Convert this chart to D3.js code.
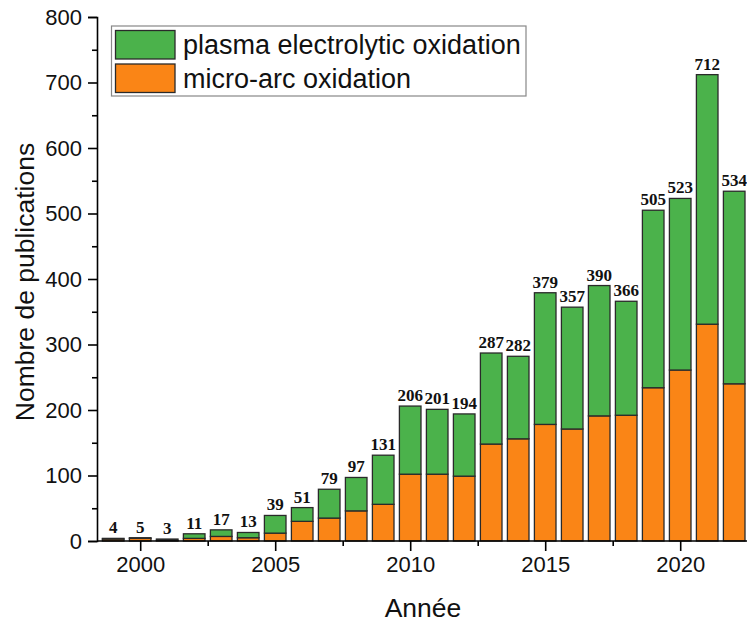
<!DOCTYPE html>
<html>
<head>
<meta charset="utf-8">
<script src="https://cdn.jsdelivr.net/npm/d3@7"></script>
<style>
  html, body { margin: 0; padding: 0; background: #fff; }
  svg { display: block; }
</style>
</head>
<body>
<svg id="chart" width="747" height="623"></svg>
<script>
const years = [1999,2000,2001,2002,2003,2004,2005,2006,2007,2008,2009,2010,2011,2012,2013,2014,2015,2016,2017,2018,2019,2020,2021,2022];
const microArc = [3,4,1,4,7,5,12,30,35,46,56,102,102,99,148,156,178,171,191,192,234,261,331,240];
const plasma   = [1,1,2,7,10,8,27,21,44,51,75,104,99,95,139,126,201,186,199,174,271,262,381,294];
const totals   = [4,5,3,11,17,13,39,51,79,97,131,206,201,194,287,282,379,357,390,366,505,523,712,534];
const seriesNames = ["plasma electrolytic oxidation", "micro-arc oxidation"];
const seriesColors = ["#4bb24b", "#fa8516"];
const yTicks = [0,100,200,300,400,500,600,700,800];
const xTicks = [2000,2005,2010,2015,2020];

(function () {
const svg = d3.select("#chart");
const mLeft = 97, mRight = 747, mTop = 17, mBottom = 541;

const x = d3.scaleLinear().domain([1998.4, 2022.474]).range([mLeft, mRight]);
const y = d3.scaleLinear().domain([0, 800]).range([mBottom, mTop]);
const barW = x(2000.8) - x(2000);

const data = years.map((yr, i) => ({year: yr, micro: microArc[i], plasma: plasma[i], total: totals[i]}));
const stack = d3.stack().keys(["micro", "plasma"])(data);
const colorFor = {micro: seriesColors[1], plasma: seriesColors[0]};

const g = svg.append("g");
stack.forEach(layer => {
  g.selectAll(null).data(layer).enter().append("rect")
    .attr("x", d => x(d.data.year) - barW / 2)
    .attr("width", barW)
    .attr("y", d => y(d[1]))
    .attr("height", d => y(d[0]) - y(d[1]))
    .attr("fill", colorFor[layer.key])
    .attr("stroke", "#2a2a2a")
    .attr("stroke-width", 1.3);
});

// value labels
g.selectAll(null).data(data).enter().append("text")
  .attr("x", d => x(d.year))
  .attr("y", d => y(d.total) - 5)
  .attr("text-anchor", "middle")
  .attr("font-family", "'Liberation Serif', 'Times New Roman', serif")
  .attr("font-weight", "bold")
  .attr("font-size", 17)
  .attr("fill", "#111")
  .text(d => d.total);

// Y axis
const yAxis = d3.axisLeft(y).tickValues(yTicks).tickSize(9).tickPadding(6).tickFormat(d3.format("d"));
const ya = svg.append("g").attr("transform", `translate(${mLeft},0)`).call(yAxis);
ya.select(".domain").attr("stroke", "#000").attr("stroke-width", 1.6);
ya.selectAll(".tick line").attr("stroke", "#000").attr("stroke-width", 1.6);
ya.selectAll("text").attr("font-family", "'Liberation Sans', Arial, sans-serif").attr("font-size", 22).attr("fill", "#111");
const yMinor = d3.range(50, 800, 100);
svg.append("g").attr("transform", `translate(${mLeft},0)`).call(d3.axisLeft(y).tickValues(yMinor).tickSize(5).tickFormat(""))
  .call(s => { s.select(".domain").remove(); s.selectAll("line").attr("stroke", "#000").attr("stroke-width", 1.6); });

// X axis
const xAxis = d3.axisBottom(x).tickValues(xTicks).tickSize(10).tickPadding(5).tickFormat(d3.format("d"));
const xa = svg.append("g").attr("transform", `translate(0,${mBottom})`).call(xAxis);
xa.select(".domain").attr("stroke", "#000").attr("stroke-width", 1.6).attr("d", `M${mLeft},0H${mRight}`);
xa.selectAll(".tick line").attr("stroke", "#000").attr("stroke-width", 1.6);
xa.selectAll("text").attr("font-family", "'Liberation Sans', Arial, sans-serif").attr("font-size", 22).attr("fill", "#111");
const xMinor = [2002.5, 2007.5, 2012.5, 2017.5];
svg.append("g").attr("transform", `translate(0,${mBottom})`).call(d3.axisBottom(x).tickValues(xMinor).tickSize(5).tickFormat(""))
  .call(s => { s.select(".domain").remove(); s.selectAll("line").attr("stroke", "#000").attr("stroke-width", 1.6); });

// Axis titles
svg.append("text")
  .attr("x", (mLeft + mRight) / 2 + 1)
  .attr("y", 617)
  .attr("text-anchor", "middle")
  .attr("font-family", "'Liberation Sans', Arial, sans-serif")
  .attr("font-size", 26.5)
  .attr("fill", "#111")
  .text("Année");
svg.append("text")
  .attr("transform", `translate(34,${(mTop + mBottom) / 2 + 3}) rotate(-90)`)
  .attr("text-anchor", "middle")
  .attr("font-family", "'Liberation Sans', Arial, sans-serif")
  .attr("font-size", 26.5)
  .attr("fill", "#111")
  .text("Nombre de publications");

// Legend
const lg = svg.append("g");
lg.append("rect").attr("x", 111.5).attr("y", 26).attr("width", 414.5).attr("height", 70)
  .attr("fill", "#fff").attr("stroke", "#888").attr("stroke-width", 1.2);
seriesNames.forEach((name, i) => {
  lg.append("rect").attr("x", 115.5).attr("y", 30.5 + i * 33.5).attr("width", 59.5).attr("height", 28.5)
    .attr("fill", seriesColors[i]).attr("stroke", "#2a2a2a").attr("stroke-width", 1.3);
  lg.append("text").attr("x", 183).attr("y", 54 + i * 34)
    .attr("font-family", "'Liberation Sans', Arial, sans-serif")
    .attr("font-size", 27)
    .attr("fill", "#111")
    .text(name);
});
})();
</script>
</body>
</html>
